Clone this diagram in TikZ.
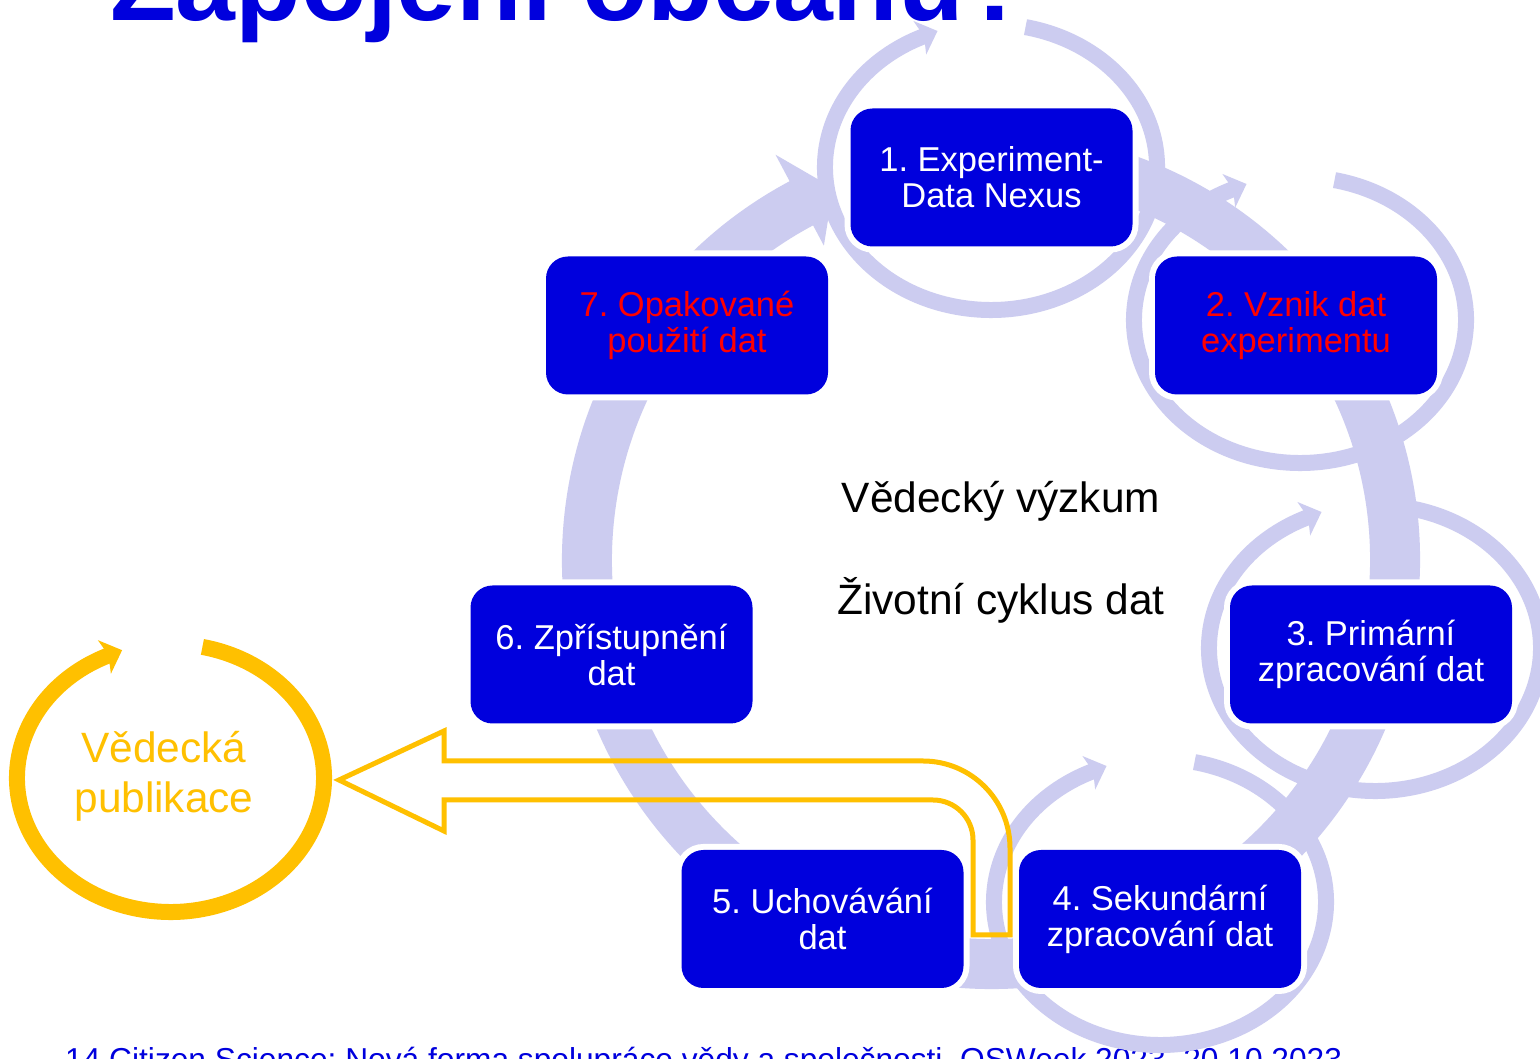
\documentclass[tikz,border=0pt]{standalone}
\usepackage{fontspec}
\setmainfont{Liberation Sans}
\definecolor{boxblue}{RGB}{0,0,221}
\definecolor{lav}{RGB}{204,204,240}
\definecolor{gold}{RGB}{255,192,0}
\newcommand\smallhead[2]{\fill[#2,shift={(#1)}] (-71.8,137.6) -- (-77.6,146.0) -- (-53.5,136.0) -- (-64.8,112.4) -- (-66.0,122.6) -- cycle;}
\begin{document}
\frenchspacing
\begin{tikzpicture}[x=1pt,y=1pt,
  stepbox/.style={rounded corners=22pt, fill=boxblue, minimum width=282pt, minimum height=138pt,
    inner sep=0pt, align=center, font=\fontsize{34.5}{36}\selectfont, text=white,
    preaction={draw=white, line width=12pt}},
  redtext/.style={text=red},
  ring/.style={draw=lav, line width=16pt},
  bigring/.style={draw=lav, line width=50pt},
  bigtext/.style={font=\fontsize{42.4}{50}\selectfont, anchor=base, inner sep=0pt}
]
\clip (0,0) rectangle (1540,1059);
\fill[white] (0,0) rectangle (1540,1059);

% title and footer
\node[anchor=base west, inner sep=0pt, text=boxblue, font=\fontsize{107.5}{112}\selectfont\bfseries] (title) at (110,1038) {Zapojení občanů?};
\node[anchor=base west, inner sep=0pt, text=boxblue, font=\fontsize{31.7}{36}\selectfont] (footer) at (65,-12) {14 Citizen Science: Nová forma spolupráce vědy a společnosti, OSWeek 2023, 20.10.2023};

% big cycle ring
\coordinate (C) at (991,499);
\draw[bigring] ([shift={(80:404)}]C) arc[start angle=80, end angle=-242.5, radius=404];
\fill[lav] ([shift={(118:429)}]C) -- ([shift={(118:459)}]C) -- ([shift={(113:404)}]C) -- ([shift={(118:356)}]C) -- ([shift={(118:379)}]C) -- cycle;

% small circular arrows around nodes
\coordinate (e1) at (991,892);
\coordinate (e2) at (1300,739);
\coordinate (e3) at (1375,411);
\coordinate (e4) at (1160,157);
\foreach \e in {e1,e2,e3,e4}{
  \draw[ring] ([shift={(78:166 and 143)}]\e) arc[start angle=78, end angle=-246, x radius=166, y radius=143];
  \smallhead{\e}{lav}
}

% publication circle
\coordinate (yp) at (170.5,281);
\draw[draw=gold, line width=16pt] ([shift={(78:153.5 and 134)}]yp) arc[start angle=78, end angle=-246, x radius=153.5, y radius=134];
\fill[gold, shift={(yp)}] (-66.7,129.4) -- (-72.6,137.8) -- (-48.4,127.8) -- (-59.6,104.2) -- (-60.9,114.4) -- cycle;
\node[bigtext, text=gold] (pub1) at (164,296) {Vědecká};
\node[bigtext, text=gold] (pub2) at (164,246) {publikace};

% boxes
\node[stepbox] (n1) at (991.5,881.5) {1. Experiment-\\Data Nexus};
\node[stepbox, redtext] (n2) at (1296,733.5) {2. Vznik dat\\experimentu};
\node[stepbox] (n3) at (1371,404.5) {3. Primární\\zpracování dat};
\node[stepbox] (n4) at (1160,140) {4. Sekundární\\zpracování dat};
\node[stepbox] (n5) at (822.5,140) {5. Uchovávání\\dat};
\node[stepbox] (n6) at (611.5,404.5) {6. Zpřístupnění\\dat};
\node[stepbox, redtext] (n7) at (687,733.5) {7. Opakované\\použití dat};

% yellow bent arrow
\coordinate (ytip) at (339,279);
\draw[gold, line width=5pt, line join=miter] (ytip) -- (444,328) -- (444,298) -- (923,298)
  arc[start angle=90, end angle=0, radius=87] -- (1010,124) -- (973,124) -- (973,219)
  arc[start angle=0, end angle=90, radius=40] -- (444,259) -- (444,228) -- cycle;

% centre text
\node[bigtext] (t1) at (1001,546) {Vědecký výzkum};
\node[bigtext] (t2) at (1001,444) {Životní cyklus dat};
\end{tikzpicture}
\end{document}
